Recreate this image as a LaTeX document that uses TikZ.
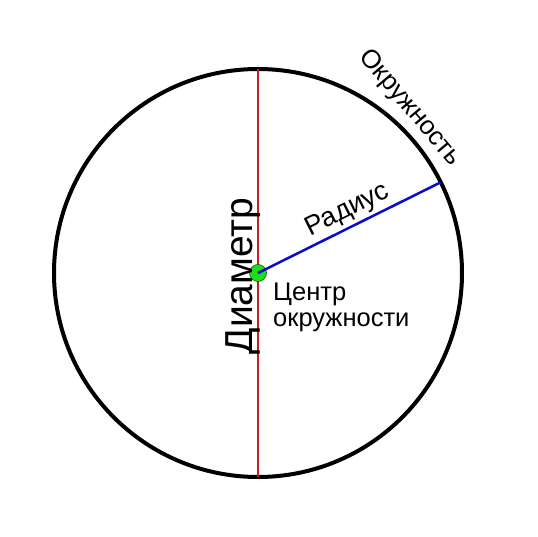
\documentclass[tikz,border=0pt]{standalone}
\usepackage{fontspec}
\setmainfont{Liberation Sans}
\usepackage{tikz}
\usetikzlibrary{calc}

\definecolor{diamred}{RGB}{200,30,30}
\definecolor{radblue}{RGB}{10,10,200}
\definecolor{dotgreen}{RGB}{30,220,30}

\begin{document}
\begin{tikzpicture}[x=1pt,y=1pt]

\useasboundingbox [fill=white] (0,0) rectangle (538,536);

\coordinate (O) at (258, 263);
\coordinate (T) at ($(O)+(90:204)$);
\coordinate (B) at ($(O)+(-90:204)$);
\coordinate (R) at ($(O)+(26.4:204)$);

\draw [black, line width=4pt] (O) circle (204);

\draw [diamred, line width=2pt] (T) -- (B);

\draw [radblue, line width=2.5pt] (O) -- (R) node (rad) [pos=0.53, sloped, above, inner sep=3pt, text=black, font=\fontsize{27}{27}\selectfont] {Радиус};

               \node (ctr) at (O)[circle,fill=dotgreen,draw=black!60!green,line width=0.6pt,inner sep=0pt,minimum size=17pt]{};
\draw [radblue, line width=2.5pt] (O) -- ($(O)!9pt!(R)$);

 \node (diam) at (252, 260) [rotate=90, anchor=base, inner sep=0pt, font=\fontsize{39}{39}\selectfont]   {Диаметр};

 \node (centre) at (273, 253) [anchor=north west, inner sep=0pt, align=left, font=\fontsize{25.5}{26}\selectfont]   {Центр\\окружности};

 \node (circ) at (410, 428) [rotate=-50, inner sep=0pt, font=\fontsize{26}{26}\selectfont]   {Окружность};

    \end{tikzpicture}
\end{document}
